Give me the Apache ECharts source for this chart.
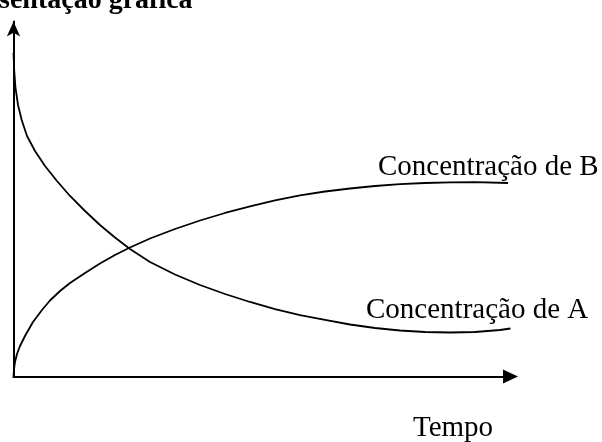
<!DOCTYPE html>
<html>
<head>
<meta charset="utf-8">
<script type="text/javascript" src="https://cdn.jsdelivr.net/npm/echarts@6/dist/echarts.min.js"></script>
<style>
    html, body { margin:0; padding:0; background:#fff; }
    #chart_div { width:602px; height:442px; }
</style>
</head>
<body>
<div id="chart_div"></div>
<script>
    // tempo x concentração (unidades arbitrárias, 0-100)
    var tempo_a = [0, 0.14, 0.40, 0.91, 1.65, 2.72, 4.33, 6.34, 8.75, 11.37, 14.39, 17.40, 20.42, 23.44, 27.46, 32.49,
                   37.53, 42.56, 47.59, 52.62, 57.65, 62.68, 67.71, 72.74, 77.77, 82.80, 87.83, 92.86, 97.89, 100];
    var conc_a  = [91.13, 86.34, 81.27, 76.48, 72.25, 67.75, 63.52, 59.30, 55.07, 50.85, 46.62, 42.68, 39.15, 35.92, 32.25, 28.73,
                   25.77, 23.24, 20.99, 19.01, 17.32, 15.92, 14.65, 13.66, 12.96, 12.54, 12.39, 12.54, 13.10, 13.52];
    var tempo_b = [0, 0.10, 0.30, 0.70, 1.31, 2.31, 3.92, 5.73, 7.34, 9.36, 11.37, 14.39, 17.40, 20.42, 23.44, 27.46,
                   32.49, 37.53, 42.56, 47.59, 52.62, 57.65, 62.68, 67.71, 72.74, 77.77, 82.80, 87.83, 92.86, 99.50];
    var conc_b  = [0, 2.11, 4.08, 6.34, 8.59, 11.41, 15.35, 18.73, 21.41, 24.08, 26.34, 29.15, 31.83, 34.23, 36.34, 38.87,
                   41.55, 43.94, 46.06, 47.89, 49.58, 50.99, 52.11, 52.96, 53.66, 54.17, 54.51, 54.70, 54.73, 54.51];

    var titulo = 'sentação gráfica';
    var rotulo_a = 'Concentração de A';
    var rotulo_b = 'Concentração de B';
    var rotulo_x = 'Tempo';

    var pares = function(xs, ys) {
        var out = [];
        for (var i = 0; i < xs.length; i++) {
            out.push([xs[i], ys[i]]);
        }
        return out;
    }

    var serif = '"Liberation Serif", "Times New Roman", serif';
    var chart_div = echarts.init(document.getElementById('chart_div'), null, {renderer: 'canvas'});

    var option = {
        animation: false,
        backgroundColor: '#fff',
        grid: {
            left: 13.5,
            right: 91.5,
            top: 21.5,
            bottom: 65.5
        },
        xAxis: {
            type: 'value',
            min: 0,
            max: 100,
            axisLine: {
                lineStyle: { color: '#000', width: 2 },
                symbol: ['none', 'triangle'],
                symbolSize: [14, 15]
            },
            axisTick: { show: false },
            axisLabel: { show: false },
            splitLine: { show: false }
        },
        yAxis: {
            type: 'value',
            min: 0,
            max: 100,
            axisLine: {
                show: true,
                lineStyle: { color: '#000', width: 2 },
                symbol: ['none', 'arrow'],
                symbolSize: [10, 15]
            },
            axisTick: { show: false },
            axisLabel: { show: false },
            splitLine: { show: false }
        },
        graphic: [
            {
                type: 'text', left: -1, top: -13,
                style: { text: titulo, font: 'bold 28px ' + serif, fill: '#000' }
            },
            {
                type: 'text', left: 378, top: 153,
                style: { text: rotulo_b, font: '29px ' + serif, fill: '#000' }
            },
            {
                type: 'text', left: 366, top: 296,
                style: { text: rotulo_a, font: '29px ' + serif, fill: '#000' }
            },
            {
                type: 'text', left: 413, top: 414,
                style: { text: rotulo_x, font: '29px ' + serif, fill: '#000' }
            }
        ],
        series: [{
            name: rotulo_a,
            type: 'line',
            smooth: false,
            showSymbol: false,
            lineStyle: { color: '#000', width: 1.8, join: 'round' },
            data: pares(tempo_a, conc_a)
        }, {
            name: rotulo_b,
            type: 'line',
            smooth: false,
            showSymbol: false,
            lineStyle: { color: '#000', width: 1.8, join: 'round' },
            data: pares(tempo_b, conc_b)
        }]
    };
    chart_div.setOption(option);
</script>
</body>
</html>
